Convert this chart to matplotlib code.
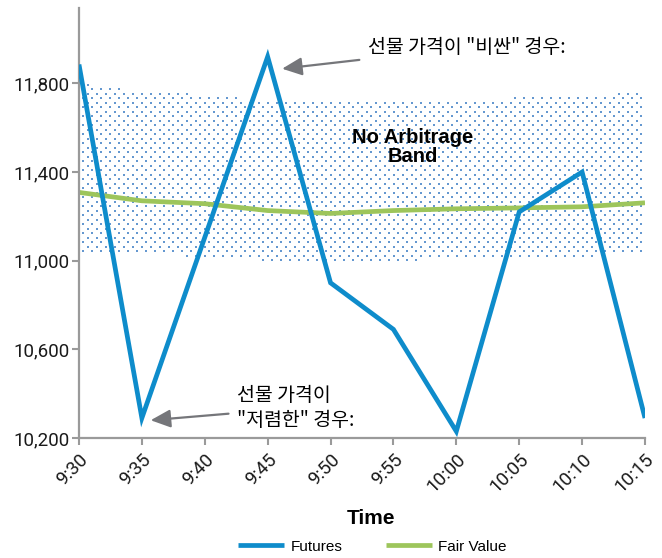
import numpy as np
import matplotlib.pyplot as plt

# ===============================================
# Futures vs Fair Value - No Arbitrage Band
# ===============================================

plt.rcParams["font.family"] = ["Roboto", "Noto Sans CJK KR", "DejaVu Sans"]

times = ["9:30", "9:35", "9:40", "9:45", "9:50", "9:55", "10:00", "10:05", "10:10", "10:15"]
futures = [11885, 10290, 11105, 11920, 10900, 10690, 10230, 11220, 11400, 10290]
fair_value = [11308, 11270, 11257, 11226, 11213, 11226, 11234, 11238, 11243, 11261]
band_upper = [11800, 11765, 11750, 11722, 11717, 11717, 11720, 11735, 11745, 11760]
band_lower = [11025, 11025, 11020, 11000, 10990, 10990, 11017, 11017, 11020, 11030]

yticks = [10200, 10600, 11000, 11400, 11800]

BLUE = "#0e8ccb"
GREEN = "#9dc55b"
DOT = "#4a86c8"
GREY = "#9a9a9a"
ARROW = "#75767a"
KR = ["Noto Sans CJK KR", "DejaVu Sans"]

x = np.arange(len(times))

fig = plt.figure(figsize=(6.62, 5.58), dpi=100)
ax = fig.add_axes([0.1193, 0.2151, 0.855, 0.7706])

# dotted fill for the band: staggered grid, kept between the two edges
dx = 9 / 62.9
dy = 20.3
rows = np.arange(10900, 11900, dy)
px, py = [], []
for i, ry in enumerate(rows):
    cols = np.arange(0, x[-1] + 1e-9, dx) + (dx / 2 if i % 2 else 0)
    lo = np.interp(cols, x, band_lower)
    hi = np.interp(cols, x, band_upper)
    keep = (ry >= lo) & (ry <= hi) & (cols <= x[-1])
    px.extend(cols[keep])
    py.extend([ry] * keep.sum())
ax.scatter(px, py, s=4, marker="s", color=DOT, linewidths=0, alpha=0.85, zorder=1)

# lines
ax.plot(x, fair_value, color=GREEN, lw=3.4, label="Fair Value", zorder=2,
        solid_capstyle="butt")
ax.plot(x, futures, color=BLUE, lw=3.4, label="Futures", zorder=3,
        solid_joinstyle="miter", solid_capstyle="butt")

# axes styling
ax.set_xlim(0, x[-1])
ax.set_ylim(10200, 12140)
for side in ["top", "right"]:
    ax.spines[side].set_visible(False)
for side in ["left", "bottom"]:
    ax.spines[side].set_color(GREY)
    ax.spines[side].set_linewidth(1.6)

ax.set_yticks(yticks)
ax.set_yticklabels([f"{v:,}" for v in yticks])
ax.set_xticks(x)
ax.set_xticklabels(times, rotation=45, ha="right", rotation_mode="anchor")
ax.tick_params(axis="both", colors=GREY, length=5, width=1.5, labelsize=13.5,
               labelcolor="#1a1a1a")
ax.tick_params(axis="y", pad=2)
ax.tick_params(axis="x", pad=4)

ax.set_xlabel("Time", fontsize=15, fontweight="bold", family="Liberation Sans")
ax.xaxis.set_label_coords(0.516, -0.165)

# band label
ax.text(5.31, 11514, "No Arbitrage\nBand", ha="center", va="center", fontsize=14.5,
        fontweight="bold", family="Liberation Sans", linespacing=1.0)

# annotations
arrow = dict(arrowstyle="-|>,head_length=0.55,head_width=0.25", color=ARROW,
             lw=1.6, mutation_scale=22, shrinkA=4, shrinkB=0)
ax.annotate('선물 가격이 "비싼" 경우:', xy=(3.23, 11866), xytext=(4.59, 11961),
            ha="left", va="center", fontsize=14, family=KR, arrowprops=arrow)
ax.annotate('선물 가격이\n"저렴한" 경우:', xy=(1.14, 10280), xytext=(2.51, 10335),
            ha="left", va="center", fontsize=14, family=KR, linespacing=1.3,
            arrowprops=arrow)

# legend
handles, labels = ax.get_legend_handles_labels()
fig.legend(handles[::-1], labels[::-1], loc="center", bbox_to_anchor=(0.563, 0.02),
           ncol=2, frameon=False, handlelength=3.0, handletextpad=0.45,
           columnspacing=2.8, prop={"family": "Liberation Sans", "size": 11})

plt.savefig("out.png", dpi=100)
plt.close()
